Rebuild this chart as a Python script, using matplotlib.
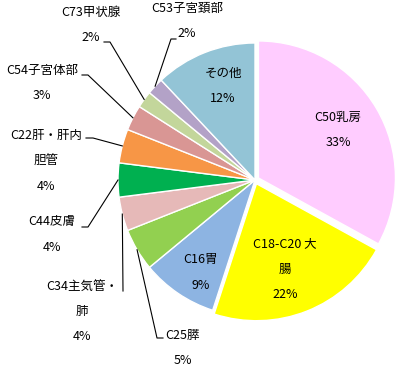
import numpy as np
import matplotlib
matplotlib.use("Agg")
import matplotlib.pyplot as plt

plt.rcParams['font.family'] = ['Noto Sans CJK JP', 'DejaVu Sans']

# data (clockwise from 12 o'clock)
names = ["C50乳房", "C18-C20 大\n腸", "C16胃", "C25膵", "C34主気管・\n肺", "C44皮膚",
         "C22肝・肝内\n胆管", "C54子宮体部", "C73甲状腺", "C53子宮頚部", "その他"]
values = [33, 22, 9, 5, 4, 4, 4, 3, 2, 2, 12]
colors = ["#FFCCFF", "#FFFF00", "#8DB4E2", "#92D050", "#E6B9B8", "#00B050",
          "#F79646", "#D99694", "#C3D69B", "#B3A2C7", "#93C4D6"]
explode = [4, 4, 0, 0, 0, 0, 0, 0, 0, 0, 0]

W, H = 399, 368


def P(x, y):
    # image pixel -> data coords
    return x, H - y


fig = plt.figure(figsize=(W / 100, H / 100), dpi=100)
ax = fig.add_axes([0, 0, 1, 1])

wedges, _ = ax.pie(values, colors=colors, explode=explode, startangle=90,
                   counterclock=False, center=P(255, 180), radius=137,
                   wedgeprops=dict(edgecolor='white', linewidth=1))

# label anchor (first line centre) + leader line elbow points, in image pixels
inside = {0: (338, 117), 1: (285, 244), 2: (201, 260), 10: (223, 73)}
outside = {
    3: ((183, 335), [(163, 338), (157, 338)]),
    4: ((82, 286), [(123, 291)]),
    5: ((52, 222), [(82, 227), (88, 227)]),
    6: ((46, 135), [(86, 138), (93, 138)]),
    7: ((42, 70), [(82, 75), (88, 75)]),
    8: ((91, 12), [(104, 42), (110, 42)]),
    9: ((187, 8), [(176, 39), (171, 39)]),
}
step = 25.5


def draw_label(i, pos):
    lines = names[i].split("\n") + [f"{values[i]}%"]
    for k, s in enumerate(lines):
        x, y = P(pos[0], pos[1] + k * step)
        ax.text(x, y, s, ha='center', va='center', fontsize=9, color='black')


for i, pos in inside.items():
    draw_label(i, pos)

for i, (pos, elbow) in outside.items():
    draw_label(i, pos)
    w = wedges[i]
    tm = np.deg2rad((w.theta1 + w.theta2) / 2)
    ex = w.center[0] + w.r * np.cos(tm)
    ey = w.center[1] + w.r * np.sin(tm)
    pts = [P(*p) for p in elbow] + [(ex, ey)]
    ax.plot([p[0] for p in pts], [p[1] for p in pts], color='black', lw=0.8)

ax.set_xlim(0, W)
ax.set_ylim(0, H)
ax.set_aspect('equal')
ax.axis('off')

fig.savefig("out.png", dpi=100)
